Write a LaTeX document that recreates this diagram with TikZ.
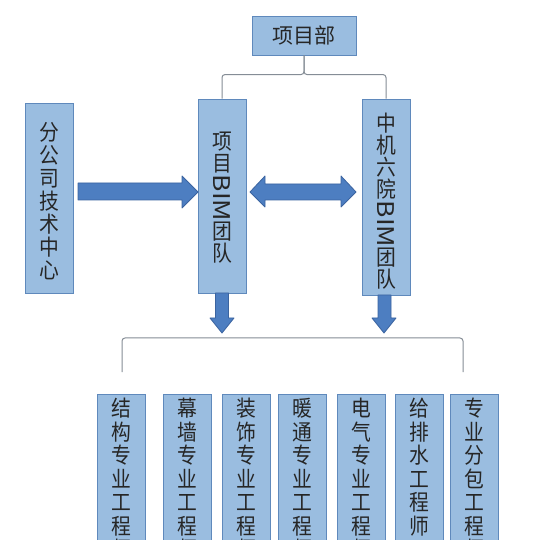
\documentclass[tikz,border=0pt]{standalone}
\usepackage{fontspec}
\newfontfamily\cjk[FakeStretch=0.9]{Noto Sans CJK SC}
\newfontfamily\cjkn{Noto Sans CJK SC}
\definecolor{boxfill}{HTML}{9ABDE0}
\definecolor{boxline}{HTML}{5F89BC}
\definecolor{arrfill}{HTML}{4D7EC1}
\definecolor{arrline}{HTML}{3B64A0}
\definecolor{bracecol}{HTML}{858D96}
\newcommand{\bimrot}{\raisebox{19pt}{\rotatebox{-90}{\scalebox{1.15}[1]{\cjkn\fontsize{23}{23}\selectfont BIM}}}}
\tikzset{
  box/.style={draw=boxline, fill=boxfill, line width=0.9pt, inner sep=0pt},
  vtext/.style={font=\cjk\fontsize{22}{23.5}\selectfont, text=black!85, align=center, inner sep=0pt, anchor=north},
  vtextb/.style={font=\cjk\fontsize{22}{22}\selectfont, text=black!85, align=center, inner sep=0pt, anchor=north},
  fatarrow/.style={draw=arrline, fill=arrfill, line width=0.8pt, line join=round},
  bracket/.style={draw=bracecol, line width=1pt, rounded corners=3pt}
}
\begin{document}
\begin{tikzpicture}[x=1pt,y=-1pt]
\useasboundingbox (0,0) rectangle (544,540);
\clip (0,0) rectangle (544,540);
\fill[white] (0,0) rectangle (544,540);
% top boxes
\node[box, minimum width=104pt, minimum height=39pt, font=\cjkn\fontsize{21}{21}\selectfont, text=black!85] (pm) at (304,35.5) {项目部};
\node[box, minimum width=48pt, minimum height=190pt] (fg) at (49,198) {};
\node[vtext, font=\cjk\fontsize{22}{23}\selectfont] (fgt) at (49,122) {分\\公\\司\\技\\术\\中\\心};
\node[box, minimum width=48pt, minimum height=194pt] (mid) at (222,196) {};
\node[vtextb] (midt) at (222,132) {项\\目\\\bimrot\\团\\队};
\node[box, minimum width=48pt, minimum height=196pt] (zj) at (386,197) {};
\node[vtextb] (zjt) at (386,113) {中\\机\\六\\院\\\bimrot\\团\\队};
% top bracket
\draw[bracket] (mid.north) -- ++(0,-24) -| (pm.south);
\draw[bracket] (zj.north) -- ++(0,-24) -| (pm.south);
% fat arrows
\draw[fatarrow] (78,183) -- (182,183) -- (182,176) -- (198,192) -- (182,208) -- (182,200) -- (78,200) -- cycle;
\draw[fatarrow] (250,192) -- (265,176) -- (265,184) -- (341,184) -- (341,176) -- (356,192) -- (341,207) -- (341,200) -- (265,200) -- (265,207) -- cycle;
\draw[fatarrow] (215.5,293) -- (228.5,293) -- (228.5,318) -- (234,318) -- (222,333) -- (210,318) -- (215.5,318) -- cycle;
\draw[fatarrow] (378,295) -- (391,295) -- (391,318) -- (396,318) -- (384,333) -- (372,318) -- (378,318) -- cycle;
% bottom bracket
\coordinate (bl) at (122,372);
\coordinate (br) at (463,372);
\draw[bracket] (bl) -- (122,338) -- (463,338) -- (br);
% bottom boxes
\foreach \n/\cx/\txt in {
  b1/121.5/{结\\构\\专\\业\\工\\程\\师},
  b2/187.5/{幕\\墙\\专\\业\\工\\程\\师},
  b3/246/{装\\饰\\专\\业\\工\\程\\师},
  b4/302.5/{暖\\通\\专\\业\\工\\程\\师},
  b5/361.5/{电\\气\\专\\业\\工\\程\\师},
  b6/419/{给\\排\\水\\工\\程\\师},
  b7/474/{专\\业\\分\\包\\工\\程\\师}} {
  \node[box, minimum width=48pt, minimum height=180pt, anchor=north] (\n) at (\cx,394) {};
  \node[vtext] (\n t) at ([yshift=-4pt]\n.north) {\txt};
}
\end{tikzpicture}
\end{document}
